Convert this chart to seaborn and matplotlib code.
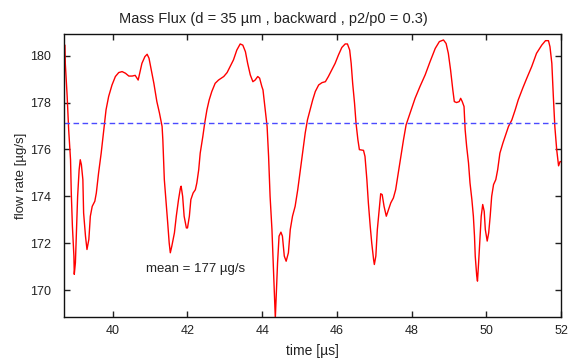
import numpy as np
import pandas as pd
import matplotlib
matplotlib.use("Agg")
import matplotlib.pyplot as plt
import seaborn as sns

# Data
time_us = [
    38.72, 38.73, 38.78, 38.82, 38.87, 38.89, 38.92, 38.96, 38.97, 39.00,
    39.03, 39.06, 39.10, 39.13, 39.16, 39.20, 39.22, 39.27, 39.31, 39.36,
    39.40, 39.45, 39.52, 39.56, 39.62, 39.69, 39.76, 39.82, 39.89, 39.98,
    40.07, 40.16, 40.25, 40.34, 40.43, 40.52, 40.60, 40.68, 40.72, 40.78,
    40.86, 40.92, 40.97, 41.03, 41.10, 41.18, 41.25, 41.32, 41.34, 41.38,
    41.43, 41.47, 41.51, 41.54, 41.58, 41.65, 41.70, 41.76, 41.81, 41.83,
    41.87, 41.91, 41.97, 42.00, 42.05, 42.09, 42.15, 42.21, 42.25, 42.30,
    42.34, 42.41, 42.46, 42.52, 42.58, 42.65, 42.74, 42.83, 42.97, 43.06,
    43.14, 43.23, 43.32, 43.41, 43.48, 43.55, 43.61, 43.68, 43.75, 43.81,
    43.88, 43.93, 43.99, 44.02, 44.07, 44.13, 44.17, 44.21, 44.26, 44.29,
    44.32, 44.35, 44.38, 44.41, 44.45, 44.50, 44.54, 44.59, 44.64, 44.70,
    44.75, 44.81, 44.88, 44.95, 45.02, 45.08, 45.15, 45.21, 45.28, 45.35,
    45.42, 45.51, 45.60, 45.69, 45.77, 45.86, 45.95, 46.04, 46.13, 46.22,
    46.28, 46.34, 46.38, 46.42, 46.47, 46.51, 46.56, 46.60, 46.71, 46.75,
    46.80, 46.84, 46.89, 46.93, 46.98, 47.00, 47.04, 47.08, 47.13, 47.17,
    47.21, 47.26, 47.32, 47.38, 47.44, 47.51, 47.57, 47.64, 47.71, 47.78,
    47.85, 47.91, 48.00, 48.09, 48.22, 48.36, 48.49, 48.63, 48.74, 48.85,
    48.92, 48.98, 49.04, 49.10, 49.14, 49.20, 49.27, 49.31, 49.35, 49.40,
    49.43, 49.47, 49.52, 49.56, 49.61, 49.65, 49.68, 49.70, 49.74, 49.76,
    49.79, 49.83, 49.86, 49.90, 49.94, 49.97, 50.02, 50.06, 50.10, 50.14,
    50.19, 50.25, 50.30, 50.36, 50.44, 50.50, 50.59, 50.68, 50.77, 50.85,
    50.97, 51.08, 51.21, 51.34, 51.48, 51.58, 51.66, 51.70, 51.75, 51.79,
    51.83, 51.88, 51.91, 51.93, 51.97, 52.00,
]
flow_rate = [
    180.45, 179.67, 178.26, 176.84, 175.56, 174.14, 172.72, 171.45, 170.67, 171.16,
    172.58, 174.00, 175.13, 175.56, 175.35, 174.71, 173.29, 172.30, 171.73, 172.16,
    173.15, 173.57, 173.79, 174.14, 174.99, 175.84, 176.84, 177.69, 178.26, 178.75,
    179.11, 179.28, 179.32, 179.25, 179.13, 179.13, 179.16, 178.96, 179.25, 179.67,
    179.96, 180.06, 179.89, 179.39, 178.82, 178.04, 177.55, 176.98, 176.41, 174.71,
    173.72, 172.87, 172.01, 171.59, 171.87, 172.44, 173.15, 173.86, 174.35, 174.43,
    174.00, 173.15, 172.65, 172.65, 173.15, 173.86, 174.14, 174.28, 174.57, 175.13,
    175.84, 176.55, 177.12, 177.69, 178.11, 178.47, 178.82, 178.96, 179.11, 179.28,
    179.53, 179.82, 180.24, 180.50, 180.45, 180.17, 179.67, 179.18, 178.89, 178.96,
    179.11, 179.04, 178.68, 178.54, 177.83, 176.98, 175.70, 174.00, 172.58, 171.30,
    170.03, 168.80, 170.03, 171.16, 172.30, 172.47, 172.30, 171.45, 171.23, 171.59,
    172.58, 173.15, 173.57, 174.28, 175.13, 175.84, 176.70, 177.26, 177.69, 178.11,
    178.47, 178.75, 178.85, 178.89, 179.11, 179.39, 179.67, 180.03, 180.35, 180.50,
    180.50, 180.24, 179.67, 178.82, 177.97, 177.12, 176.41, 175.99, 175.96, 175.70,
    174.71, 173.72, 172.72, 172.01, 171.30, 171.09, 171.45, 172.58, 173.43, 174.11,
    174.07, 173.57, 173.15, 173.43, 173.72, 173.93, 174.28, 174.99, 175.70, 176.41,
    177.05, 177.33, 177.76, 178.18, 178.68, 179.18, 179.74, 180.31, 180.60, 180.67,
    180.52, 180.10, 179.39, 178.54, 178.04, 178.00, 178.04, 178.18, 178.05, 177.83,
    176.84, 176.13, 175.42, 174.57, 173.86, 173.15, 172.30, 171.45, 170.60, 170.38,
    171.16, 172.30, 173.15, 173.65, 173.36, 172.58, 172.09, 172.44, 173.15, 174.00,
    174.50, 174.71, 175.13, 175.84, 176.27, 176.55, 176.98, 177.26, 177.69, 178.11,
    178.61, 179.04, 179.53, 180.10, 180.45, 180.64, 180.64, 180.38, 179.67, 178.26,
    176.98, 175.99, 175.56, 175.30, 175.48, 175.48,
]
mean_flow = 177.12
x_ticks = [40, 42, 44, 46, 48, 50, 52]
y_ticks = [170, 172, 174, 176, 178, 180]

df = pd.DataFrame({"time": time_us, "flow": flow_rate})

sns.set_style("ticks")
plt.rcParams['font.family'] = ['Liberation Sans', 'DejaVu Sans']
plt.rcParams['text.color'] = '#222222'
plt.rcParams['axes.labelcolor'] = '#222222'
plt.rcParams['xtick.color'] = '#222222'
plt.rcParams['ytick.color'] = '#222222'

fig = plt.figure(figsize=(5.68, 3.59), dpi=100)
ax = fig.add_axes([0.113, 0.117, 0.875, 0.788])

sns.lineplot(data=df, x="time", y="flow", color="#ff0000", linewidth=1.0, ax=ax, sort=False)
ax.axhline(mean_flow, color="#4a4aff", linewidth=1.0, linestyle=(0, (4, 2.5)))
ax.text(40.9, 170.88, "mean = 177 µg/s", fontsize=9.5, va="center", ha="left")

ax.set_xlim(38.7, 52.0)
ax.set_ylim(168.85, 180.92)
ax.set_xticks(x_ticks)
ax.set_yticks(y_ticks)
ax.tick_params(direction="in", top=True, right=True, length=4, width=1, labelsize=9)
ax.tick_params(axis="y", pad=9.5)
ax.tick_params(axis="x", pad=6)
for s in ax.spines.values():
    s.set_linewidth(1.0)
    s.set_color("#111111")

ax.set_title("Mass Flux (d = 35 µm , backward , p2/p0 = 0.3)", fontsize=10.5, pad=8, x=0.4216)
ax.set_xlabel("time [µs]", fontsize=10, labelpad=5)
ax.set_ylabel("flow rate [µg/s]", fontsize=9.5, labelpad=2)

fig.savefig("out.png", dpi=100)
